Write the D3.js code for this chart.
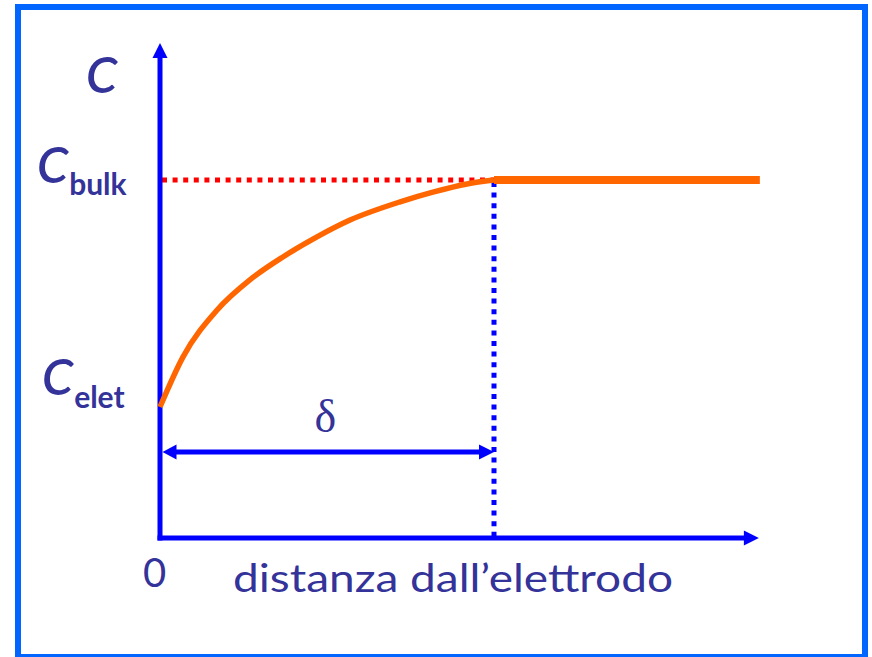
<!DOCTYPE html>
<html>
<head>
<meta charset="utf-8">
<script src="https://cdn.jsdelivr.net/npm/d3@7"></script>
<style>
    body { margin: 0; background: #fff; }
    .lbl { fill: #333399; font-family: "Comic Sans MS", Lato, sans-serif; }
</style>
</head>
<body>
<div id="chart"></div>
<script>

// distance from the electrode (units of delta) and concentration (units of C bulk)
const distance = [0, 0.069, 0.171, 0.269, 0.368, 0.470, 0.569, 0.719, 0.817, 0.919, 1.0];
const concentration = [0.366, 0.506, 0.637, 0.721, 0.785, 0.841, 0.888, 0.939, 0.966, 0.989, 1.0];

// bulk plateau after delta
const plateauDistance = [1.0, 1.796];
const plateauConc = [1.0, 1.0];

const deltaPos = 1.0;
const cBulk = 1.0;
const cElet = 0.366;

const xLabel = "distanza dall’elettrodo";
const originLabel = "0";

class ProfileChart {

    constructor(parentElement) {
        this.parentElement = parentElement;
        this.initVis();
    }

    initVis() {
        let vis = this;

        vis.width = 872;
        vis.height = 657;

        vis.svg = d3.select("#" + vis.parentElement).append("svg")
            .attr("width", vis.width)
            .attr("height", vis.height);

        // outer frame
        vis.svg.append("rect")
            .attr("x", 18).attr("y", 7)
            .attr("width", 847).attr("height", 650)
            .attr("fill", "none")
            .attr("stroke", "#0066FF")
            .attr("stroke-width", 6);

        vis.x = d3.scaleLinear().domain([0, 1]).range([160, 494]);
        vis.y = d3.scaleLinear().domain([0, 1]).range([538, 180]);

        vis.updateVis();
    }

    updateVis() {
        let vis = this;
        let x = vis.x, y = vis.y;
        let blue = "#0000FF";

        // dotted guides
        vis.svg.append("line")
            .attr("x1", x(0) + 2).attr("x2", x(deltaPos))
            .attr("y1", y(cBulk)).attr("y2", y(cBulk))
            .attr("stroke", "#FF0000").attr("stroke-width", 5)
            .attr("stroke-dasharray", "5,5.6");

        vis.svg.append("line")
            .attr("x1", x(deltaPos)).attr("x2", x(deltaPos))
            .attr("y1", y(cBulk) + 2).attr("y2", y(0))
            .attr("stroke", blue).attr("stroke-width", 5)
            .attr("stroke-dasharray", "5,5.6");

        // axes with arrows
        let yTop = y(1.383), xEnd = x(1.793);
        vis.svg.append("line")
            .attr("x1", x(0)).attr("x2", x(0))
            .attr("y1", y(0) + 2.5).attr("y2", yTop + 14)
            .attr("stroke", blue).attr("stroke-width", 5);
        vis.svg.append("path")
            .attr("d", `M${x(0)},${yTop} L${x(0) - 7.5},${yTop + 15} L${x(0) + 7.5},${yTop + 15} Z`)
            .attr("fill", blue);

        vis.svg.append("line")
            .attr("x1", x(0) - 2.5).attr("x2", xEnd - 14)
            .attr("y1", y(0)).attr("y2", y(0))
            .attr("stroke", blue).attr("stroke-width", 5);
        vis.svg.append("path")
            .attr("d", `M${xEnd},${y(0)} L${xEnd - 15},${y(0) - 7.5} L${xEnd - 15},${y(0) + 7.5} Z`)
            .attr("fill", blue);

        // delta double arrow
        let yd = 452, xa = x(0) + 2.5, xb = x(deltaPos);
        vis.svg.append("line")
            .attr("x1", xa + 12).attr("x2", xb - 12)
            .attr("y1", yd).attr("y2", yd)
            .attr("stroke", blue).attr("stroke-width", 5);
        vis.svg.append("path")
            .attr("d", `M${xa},${yd} L${xa + 14},${yd - 7.5} L${xa + 14},${yd + 7.5} Z`)
            .attr("fill", blue);
        vis.svg.append("path")
            .attr("d", `M${xb},${yd} L${xb - 15},${yd - 7.5} L${xb - 15},${yd + 7.5} Z`)
            .attr("fill", blue);

        // concentration profile
        let line = d3.line()
            .x(d => x(d[0]))
            .y(d => y(d[1]))
            .curve(d3.curveMonotoneX);

        vis.svg.append("path")
            .datum(d3.zip(distance, concentration))
            .attr("d", line)
            .attr("fill", "none")
            .attr("stroke", "#FF6600")
            .attr("stroke-width", 5.5);

        vis.svg.append("path")
            .datum(d3.zip(plateauDistance, plateauConc))
            .attr("d", d3.line().x(d => x(d[0])).y(d => y(d[1])))
            .attr("fill", "none")
            .attr("stroke", "#FF6600")
            .attr("stroke-width", 8);

        // labels
        vis.svg.append("text").attr("class", "lbl")
            .attr("x", 86).attr("y", 93)
            .attr("font-size", 50).attr("font-style", "italic").attr("font-weight", 600)
            .text("C");

        let cb = vis.svg.append("text").attr("class", "lbl")
            .attr("x", 37).attr("y", y(cBulk) + 3);
        cb.append("tspan").attr("font-size", 50).attr("font-style", "italic").attr("font-weight", 600).text("C");
        cb.append("tspan").attr("font-size", 30).attr("font-weight", "bold").attr("dx", 1).attr("dy", 12).text("bulk");

        let ce = vis.svg.append("text").attr("class", "lbl")
            .attr("x", 42).attr("y", y(cElet) - 12);
        ce.append("tspan").attr("font-size", 50).attr("font-style", "italic").attr("font-weight", 600).text("C");
        ce.append("tspan").attr("font-size", 30).attr("font-weight", "bold").attr("dx", 1).attr("dy", 13).text("elet");

        vis.svg.append("text")
            .attr("x", (xa + xb) / 2 - 3).attr("y", 432)
            .attr("text-anchor", "middle")
            .attr("font-family", "Liberation Serif, Times New Roman, serif")
            .attr("font-size", 46)
            .attr("fill", "#333399")
            .text("δ");

        vis.svg.append("text").attr("class", "lbl")
            .attr("x", 143).attr("y", 587)
            .attr("font-size", 40)
            .text(originLabel);

        vis.svg.append("text").attr("class", "lbl")
            .attr("x", 233).attr("y", 592)
            .attr("font-size", 38)
            .attr("textLength", 440)
            .attr("lengthAdjust", "spacingAndGlyphs")
            .text(xLabel);
    }
}

new ProfileChart("chart");

</script>
</body>
</html>
